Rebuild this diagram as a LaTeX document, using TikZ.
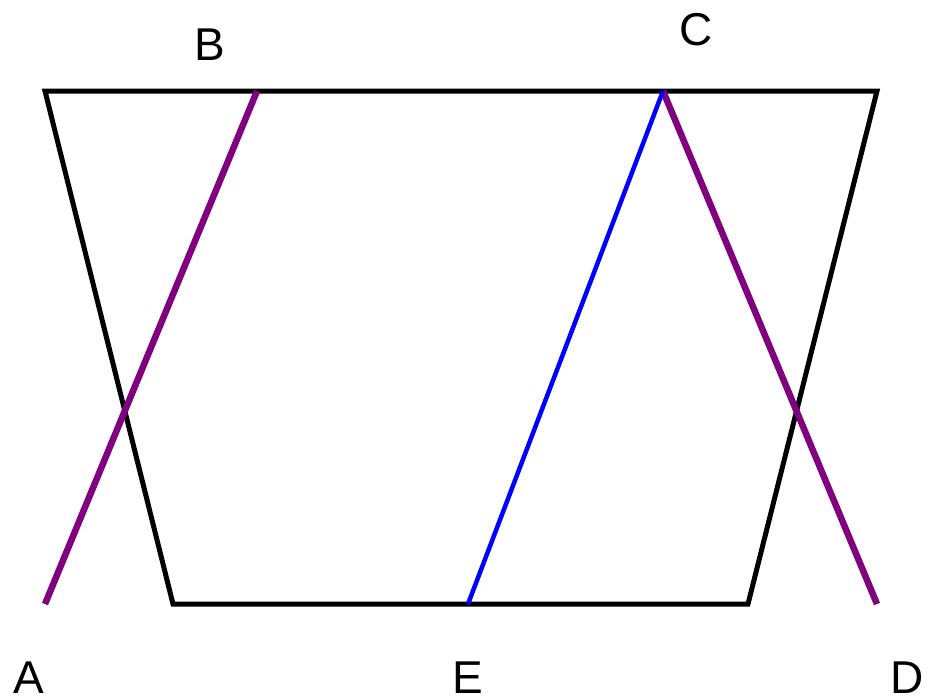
\documentclass[tikz,border=0pt]{standalone}
\usepackage{fontspec}
\setmainfont{Liberation Sans}
\usepackage{tikz}
\usetikzlibrary{positioning, calc}
\usepackage{xcolor}
\definecolor{LinePurple}{HTML}{800080}
\definecolor{LineBlue}{HTML}{0000FF}
\tikzset{
    % Line styles
    frameline/.style={
        draw=black,
        line width=5pt,
        line join=miter
    },
    crossline/.style={
        draw=LinePurple,
        line width=6.5pt
    },
    midline/.style={
        draw=LineBlue,
        line width=4.5pt
    },
    % Label style
    pointlabel/.style={
        inner sep=0pt,
        anchor=base,
        font=\fontsize{46}{50}\selectfont
    }
}
\begin{document}
\begin{tikzpicture}[x=1pt, y=-1pt]
    \useasboundingbox (0,0) rectangle (928,697);

    % trapezoid corners
    \coordinate (tl) at (45,91);
    \coordinate (tr) at (877,91);
    \coordinate (br) at (748,604);
    \coordinate (bl) at (173,604);

    % points
    \coordinate (A) at (45,604);
    \coordinate (B) at (257,91);
    \coordinate (C) at (663,91);
    \coordinate (D) at (877,604);
    \coordinate (E) at (468,604);

    \draw[frameline] (tl) -- (tr) -- (br) -- (bl) -- cycle;
    \draw[crossline] (A) -- (B);
    \draw[crossline] (C) -- (D);
    \draw[midline] (E) -- (C);

    \node[pointlabel] (labA) at (29,693) {A};
    \node[pointlabel] (labB) at (210,60) {B};
    \node[pointlabel] (labC) at (696,45) {C};
    \node[pointlabel] (labD) at (907,693) {D};
    \node[pointlabel] (labE) at (468,693) {E};
\end{tikzpicture}
\end{document}
